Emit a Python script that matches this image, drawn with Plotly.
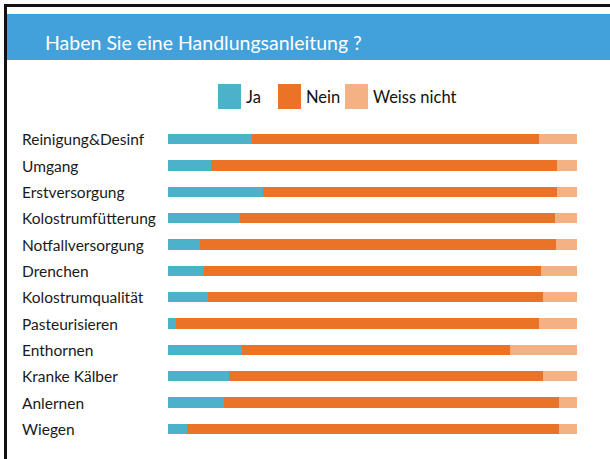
import plotly.graph_objects as go

categories = ["Reinigung&Desinf", "Umgang", "Erstversorgung", "Kolostrumfütterung",
              "Notfallversorgung", "Drenchen", "Kolostrumqualität", "Pasteurisieren",
              "Enthornen", "Kranke Kälber", "Anlernen", "Wiegen"]
ja = [20.6, 10.6, 23.3, 17.7, 7.8, 8.7, 9.8, 1.9, 18.0, 15.0, 13.6, 4.6]
nein = [70.0, 84.5, 71.8, 76.8, 87.1, 82.6, 81.8, 88.7, 65.7, 76.8, 82.0, 91.0]
weiss = [9.4, 4.9, 4.9, 5.5, 5.1, 8.7, 8.4, 9.4, 16.3, 8.2, 4.4, 4.4]
series_names = ["Ja", "Nein", "Weiss nicht"]
series_colors = ["#4BB2C9", "#EA7327", "#F4B183"]
title_text = "Haben Sie eine Handlungsanleitung ?"

FONT = "Lato"
W, H = 610, 459
ML, MR, MT, MB = 168, 33, 126, 17

fig = go.Figure()
for name, vals, col in zip(series_names, [ja, nein, weiss], series_colors):
    fig.add_trace(go.Bar(
        y=categories, x=vals, name=name, orientation="h",
        marker=dict(color=col, line=dict(width=0)),
        width=0.4, showlegend=False,
    ))

pw = W - ML - MR
ph = H - MT - MB
def px_x(x):
    return (x - ML) / pw
def px_y(y):
    return (H - MB - y) / ph

def rect(x0, x1, y0, y1, color, layer="above"):
    return dict(type="rect", xref="paper", yref="paper",
                x0=px_x(x0), x1=px_x(x1), y0=px_y(y1), y1=px_y(y0),
                fillcolor=color, line=dict(width=0), layer=layer)

shapes = []
annotations = []
# header band
shapes.append(rect(7, W, 14, 60, "#42A1DB", "below"))
# frame (top and left edges)
shapes.append(rect(4, W, 4, 7, "#111111"))
shapes.append(rect(4, 7, 4, H, "#111111"))

annotations.append(dict(text=title_text, xref="paper", yref="paper",
                        x=px_x(43), y=px_y(43), xanchor="left", yanchor="middle",
                        showarrow=False, font=dict(family=FONT, size=19.5, color="white")))

# legend swatches
leg_x = [218, 278, 345]
for name, col, lx in zip(series_names, series_colors, leg_x):
    shapes.append(rect(lx, lx + 23, 84, 109, col))
    annotations.append(dict(text=name, xref="paper", yref="paper",
                            x=px_x(lx + 26), y=px_y(97), xanchor="left", yanchor="middle",
                            showarrow=False, font=dict(family=FONT, size=16.5, color="#111111")))

# category labels, left aligned
for c in categories:
    annotations.append(dict(text=c, xref="paper", yref="y", x=px_x(20), y=c,
                            xanchor="left", yanchor="middle", showarrow=False,
                            font=dict(family=FONT, size=15.5, color="#1a1a1a")))

fig.update_layout(
    width=W, height=H, barmode="stack",
    margin=dict(l=ML, r=MR, t=MT, b=MB),
    paper_bgcolor="white", plot_bgcolor="white",
    xaxis=dict(range=[0, 100], visible=False, fixedrange=True),
    yaxis=dict(categoryorder="array", categoryarray=categories, autorange="reversed",
               showticklabels=False, showgrid=False, zeroline=False, fixedrange=True),
    shapes=shapes, annotations=annotations,
    font=dict(family=FONT),
)
fig.write_html("out.html", config={"displayModeBar": False})
